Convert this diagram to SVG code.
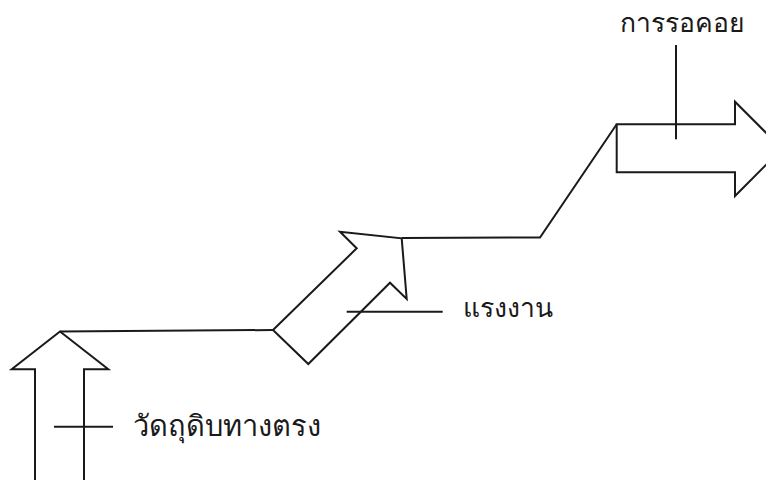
<svg xmlns="http://www.w3.org/2000/svg" width="766" height="480" viewBox="0 0 766 480">
<style>
.ln{fill:none;stroke:#1a1a1a;stroke-width:2;stroke-linejoin:miter}
.ar{fill:#fff;stroke:#1a1a1a;stroke-width:2;stroke-linejoin:miter}
.t{font-family:"Noto Sans","DejaVu Sans",sans-serif;font-size:26.5px;fill:#1a1a1a}
</style>
<rect width="766" height="480" fill="#fff"/>
<g id="node-up">
<polygon class="ar" points="60,331.5 108.3,369.3 84,369.3 84,482 35,482 35,369.3 11.7,369.3"/>
</g>
<g id="node-diag">
<polygon class="ar" points="273,330 356.7,248.3 340,231.7 401.7,238.3 406.7,299 390,282.7 308.3,364"/>
</g>
<g id="node-right">
<polygon class="ar" points="616.7,124.3 735,124.3 735,101.7 782,148.8 735,196 735,172.3 616.7,172.3"/>
</g>
<g id="connectors">
<polyline class="ln" points="60,331.5 273,330"/>
<polyline class="ln" points="401.7,238 540,237.5 616.7,124.3"/>
<line class="ln" x1="54" y1="426.7" x2="113" y2="426.7"/>
<line class="ln" x1="346.7" y1="311.7" x2="442.7" y2="311.7"/>
<line class="ln" x1="676" y1="45" x2="676" y2="139.3"/>
</g>
<g id="labels">
<text class="t" x="133" y="436" style="font-size:29px">วัดถุดิบทางตรง</text>
<text class="t" x="462.7" y="317">แรงงาน</text>
<text class="t" x="620" y="32">การรอคอย</text>
</g>
</svg>
